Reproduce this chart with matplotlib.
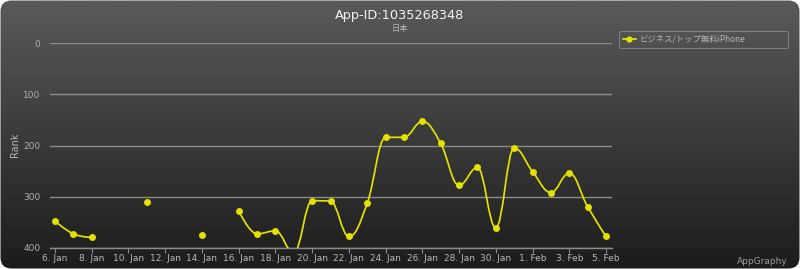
import numpy as np
import pandas as pd
import matplotlib
matplotlib.use('Agg')
import matplotlib.pyplot as plt
import matplotlib.dates as mdates
from matplotlib.path import Path
from matplotlib.patches import PathPatch, FancyBboxPatch
from matplotlib.lines import Line2D
from matplotlib.colors import LinearSegmentedColormap

plt.rcParams['font.family'] = ['DejaVu Sans', 'Noto Sans CJK JP']

# Datos del gráfico
title = 'App-ID:1035268348'
subtitle = '日本'
series_name = 'ビジネス/トップ無料iPhone'
dates = pd.date_range('2016-01-06', '2016-02-05', freq='D')
ranks = [348, 373, 380, None, None, 311, None, None, 376, None,
         328, 373, 367, 410, 308, 309, 378, 313, 184, 184,
         153, 196, 278, 243, 361, 205, 251, 292, 254, 320, 378]
y_ticks = [0, 100, 200, 300, 400]
x_tick_dates = pd.date_range('2016-01-06', '2016-02-05', freq='2D')

YELLOW = '#e2e200'


def spline_path(xs, ys, smoothing=1.5):
    """Curva tipo spline (como Highcharts) entre los puntos"""
    n = len(xs)
    lc = [None] * n
    rc = [None] * n
    denom = smoothing + 1
    for i in range(1, n - 1):
        px, py = xs[i], ys[i]
        lx, ly = xs[i - 1], ys[i - 1]
        nx, ny = xs[i + 1], ys[i + 1]
        lcx = (smoothing * px + lx) / denom
        lcy = (smoothing * py + ly) / denom
        rcx = (smoothing * px + nx) / denom
        rcy = (smoothing * py + ny) / denom
        corr = 0
        if rcx != lcx:
            corr = (rcy - lcy) * (rcx - px) / (rcx - lcx) + py - rcy
        lcy += corr
        rcy += corr
        if lcy > ly and lcy > py:
            lcy = max(ly, py)
            rcy = 2 * py - lcy
        elif lcy < ly and lcy < py:
            lcy = min(ly, py)
            rcy = 2 * py - lcy
        if rcy > ny and rcy > py:
            rcy = max(ny, py)
            lcy = 2 * py - rcy
        elif rcy < ny and rcy < py:
            rcy = min(ny, py)
            lcy = 2 * py - rcy
        lc[i] = (lcx, lcy)
        rc[i] = (rcx, rcy)
    verts = [(xs[0], ys[0])]
    codes = [Path.MOVETO]
    for i in range(1, n):
        c1 = rc[i - 1] if rc[i - 1] is not None else (xs[i - 1], ys[i - 1])
        c2 = lc[i] if lc[i] is not None else (xs[i], ys[i])
        verts += [c1, c2, (xs[i], ys[i])]
        codes += [Path.CURVE4] * 3
    return Path(verts, codes)


fig = plt.figure(figsize=(8, 2.69), dpi=100, facecolor='white')

# Fondo con degradado y esquinas redondeadas
bg = fig.add_axes([0, 0, 1, 1], zorder=-10)
bg.set_xlim(0, 800)
bg.set_ylim(0, 269)
bg.axis('off')
cmap = LinearSegmentedColormap.from_list('bg', ['#1c1c1c', '#5a5a5a'])
grad = np.linspace(0, 1, 256).reshape(-1, 1)
im = bg.imshow(grad, extent=[0, 800, 0, 269], origin='lower', aspect='auto', cmap=cmap)
box = FancyBboxPatch((0.5, 0.5), 799, 268, boxstyle='round,pad=0,rounding_size=11',
                     facecolor='none', edgecolor='none', transform=bg.transData)
bg.add_patch(box)
im.set_clip_path(box)

ax = fig.add_axes([50 / 800, (269 - 247.7) / 269, 562 / 800, (247.7 - 43.3) / 269])
ax.set_facecolor('none')

x = mdates.date2num(dates)
x0 = mdates.date2num(pd.Timestamp('2016-01-06'))
ax.set_xlim(x0 - 5 / 18.37, x0 + 30 + 6 / 18.37)
ax.set_ylim(400, 0)

# Segmentos continuos
seg_x, seg_y = [], []
segments = []
for xi, yi in zip(x, ranks):
    if yi is None:
        if seg_x:
            segments.append((seg_x, seg_y))
        seg_x, seg_y = [], []
    else:
        seg_x.append(xi)
        seg_y.append(yi)
if seg_x:
    segments.append((seg_x, seg_y))

for sx, sy in segments:
    if len(sx) > 1:
        ax.add_patch(PathPatch(spline_path(sx, sy), facecolor='none', edgecolor=YELLOW,
                               linewidth=1.25, zorder=3))

vx = [xi for xi, yi in zip(x, ranks) if yi is not None]
vy = [yi for yi in ranks if yi is not None]
ax.plot(vx, vy, linestyle='none', marker='o', markersize=5, markeredgewidth=0,
        color=YELLOW, zorder=4)

ax.set_yticks(y_ticks)
ax.yaxis.grid(True, color='#8c8c8c', linewidth=1)
ax.set_axisbelow(True)
ax.tick_params(axis='y', length=0, pad=7, labelsize=6.5, labelcolor='#b0b0b0')
ax.set_xticks(mdates.date2num(x_tick_dates))
ax.set_xticklabels([f'{d.day}. {d:%b}' for d in x_tick_dates])
ax.tick_params(axis='x', direction='out', length=3.5, width=0.8, color='#8c8c8c',
               labelsize=6.5, labelcolor='#b8b8b8', pad=1)
for side in ['top', 'left', 'right']:
    ax.spines[side].set_visible(False)
ax.spines['bottom'].set_color('#8c8c8c')
ax.spines['bottom'].set_linewidth(1)

fig.text(15 / 800, 1 - 145 / 269, 'Rank', rotation=90, ha='center', va='center',
         color='#b8b8b8', fontsize=7)
fig.text(0.5, 1 - 15 / 269, title, ha='center', va='center', color='#f2f2f2', fontsize=9.3)
fig.text(0.5, 1 - 28 / 269, subtitle, ha='center', va='center', color='#b8b8b8', fontsize=6,
         family=['Noto Sans CJK JP', 'DejaVu Sans'])
fig.text(788 / 800, 1 - 262 / 269, 'AppGraphy', ha='right', va='center', color='#9a9a9a', fontsize=6.5)

handle = Line2D([], [], color=YELLOW, marker='o', markersize=4.5, markeredgewidth=0, linewidth=1.25)
leg = ax.legend([handle], [series_name], loc='upper left',
                bbox_to_anchor=(619 / 800, 1 - 47 / 269, 169 / 800, 16 / 269),
                bbox_transform=fig.transFigure, mode='expand',
                frameon=True, fancybox=True, handlelength=1.6, handletextpad=0.4,
                borderpad=0.45, borderaxespad=0, labelcolor='#b8b8b8',
                prop={'family': ['Noto Sans CJK JP', 'DejaVu Sans'], 'size': 6})
leg.get_frame().set_facecolor('none')
leg.get_frame().set_edgecolor('#8c8c8c')
leg.get_frame().set_linewidth(0.8)

fig.savefig('out.png', dpi=100, facecolor='white')
